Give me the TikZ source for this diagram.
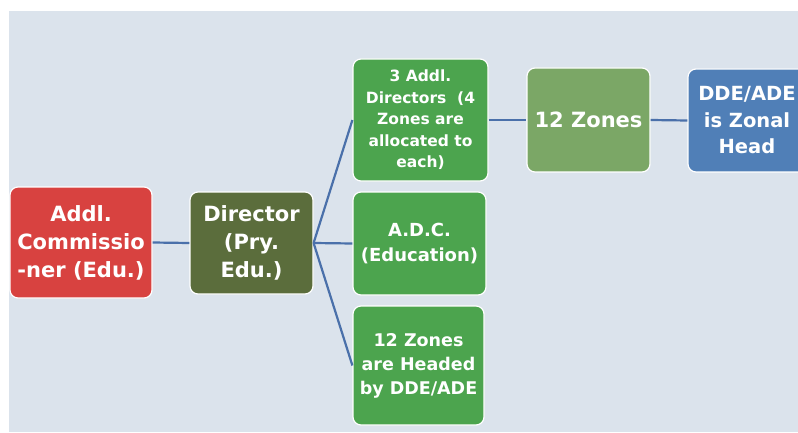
\documentclass[tikz,border=0pt]{standalone}
\usepackage{fontspec}
\setmainfont{DejaVu Sans}
\definecolor{BackBlue}{RGB}{219,227,236}
\definecolor{CommRed}{RGB}{216,66,64}
\definecolor{DirOlive}{RGB}{91,109,60}
\definecolor{SubGreen}{RGB}{76,164,78}
\definecolor{ZoneGreen}{RGB}{123,167,102}
\definecolor{HeadBlue}{RGB}{80,127,183}
\definecolor{LineBlue}{RGB}{74,112,170}

\begin{document}
\begin{tikzpicture}[x = 1pt, y = -1pt]
\tikzstyle{BoxStyle}=[rectangle, rounded corners = 8pt,
                      draw = white, line width = 1.2pt,
                      text = white, align = center,
                      inner sep = 0pt]
\tikzstyle{EdgeStyle}=[draw = LineBlue, line width = 2.2pt]
\useasboundingbox (0,0) rectangle (798,433);
\clip (0,0) rectangle (798,433);
\fill[BackBlue] (9,11) rectangle (798,432);
% boxes
\node[BoxStyle, fill = CommRed, minimum width = 142pt, minimum height = 111pt,
      font = \fontsize{21}{28}\selectfont\bfseries] (comm) at (81,242.5)
      {Addl.\\Commissio\\-ner (Edu.)};
\node[BoxStyle, fill = DirOlive, minimum width = 123pt, minimum height = 102pt,
      font = \fontsize{21}{28}\selectfont\bfseries] (dir) at (251.5,243)
      {Director\\(Pry.\\Edu.)};
\node[BoxStyle, fill = SubGreen, minimum width = 135pt, minimum height = 122pt,
      font = \fontsize{15.5}{21.5}\selectfont\bfseries] (addl) at (420.5,120)
      {3 Addl.\\Directors~ (4\\Zones are\\allocated to\\each)};
\node[BoxStyle, fill = SubGreen, minimum width = 133pt, minimum height = 103pt,
      font = \fontsize{18}{25}\selectfont\bfseries] (adc) at (419.5,243.5)
      {A.D.C.\\(Education)};
\node[BoxStyle, fill = SubGreen, minimum width = 131pt, minimum height = 119pt,
      font = \fontsize{17.5}{24}\selectfont\bfseries] (zhead) at (418.5,365.5)
      {12 Zones\\are Headed\\by DDE/ADE};
\node[BoxStyle, fill = ZoneGreen, minimum width = 123pt, minimum height = 104pt,
      font = \fontsize{21}{28}\selectfont\bfseries] (zones) at (588.5,120)
      {12 Zones};
\node[BoxStyle, fill = HeadBlue, minimum width = 118pt, minimum height = 103pt,
      font = \fontsize{19.5}{26.5}\selectfont\bfseries] (dde) at (747,120.5)
      {DDE/ADE\\is Zonal\\Head};
% connectors
\draw[EdgeStyle] (comm.east) -- (dir.west);
\draw[EdgeStyle] (dir.east) -- (addl.west);
\draw[EdgeStyle] (dir.east) -- (adc.west);
\draw[EdgeStyle] (dir.east) -- (zhead.west);
\draw[EdgeStyle] (addl.east) -- (zones.west);
\draw[EdgeStyle] (zones.east) -- (dde.west);
\end{tikzpicture}
\end{document}
